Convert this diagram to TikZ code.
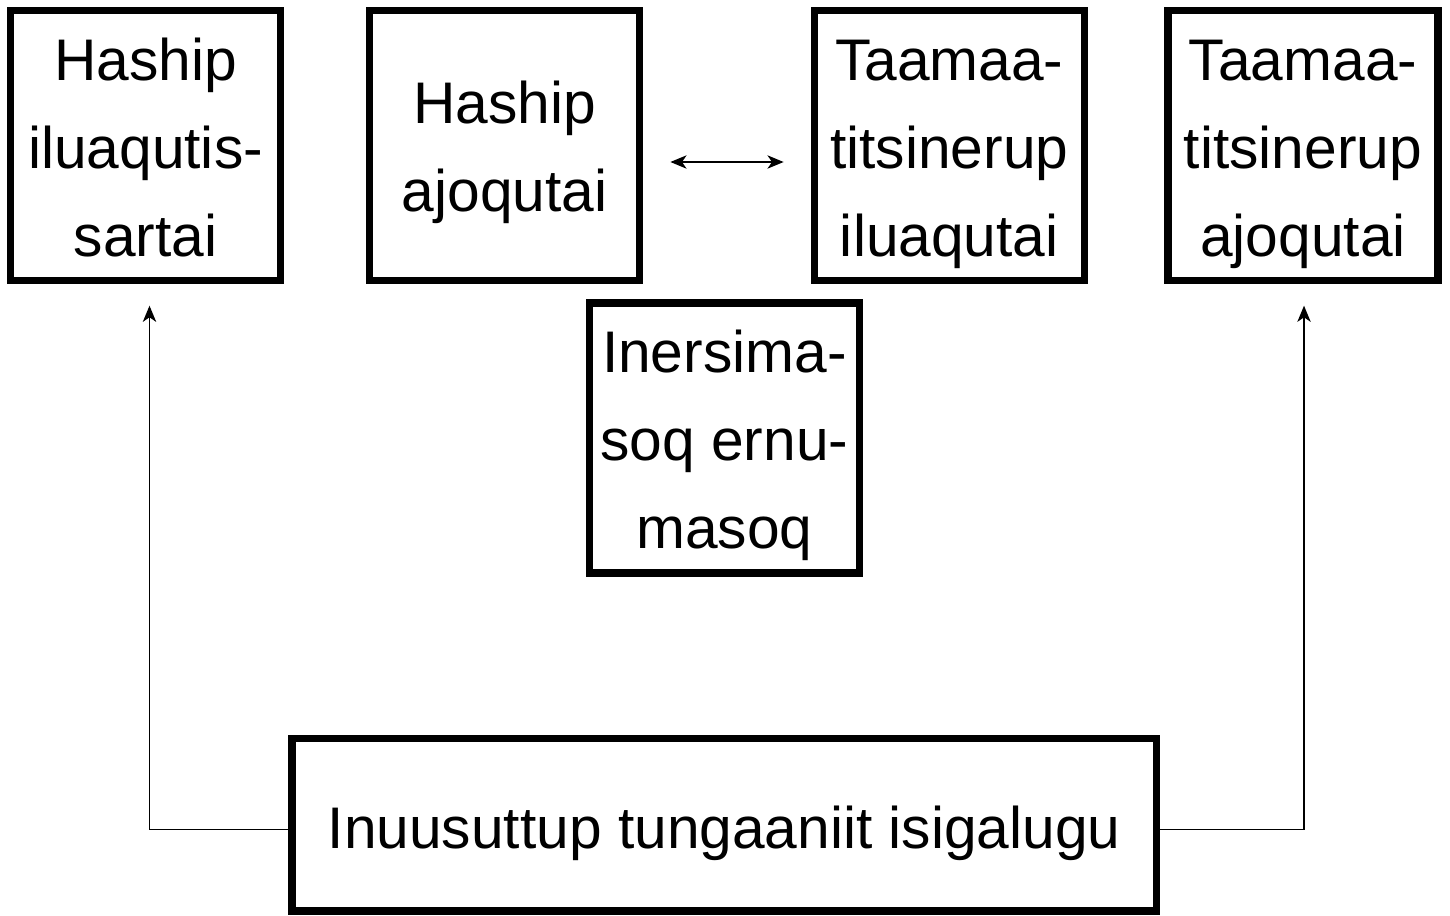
\documentclass[tikz,border=0pt]{standalone}
\usepackage{fontspec}
\setmainfont{Liberation Sans}
\usetikzlibrary{arrows.meta}

\begin{document}
\begin{tikzpicture}[%
  >={Stealth[length=4.6pt, width=3.8pt, inset=1.3pt]},
  block/.style={rectangle, draw, line width=2.1pt, minimum width=2.7cm, minimum height=2.7cm,
    align=center, inner sep=0pt, text depth=0pt, text height=2.21cm,
    font=\fontsize{16.7}{25}\selectfont},
  link/.style={line width=0.4pt, ->},]
  \useasboundingbox (0,0) rectangle (14.5,-9.15);
  {
    \node[block] (hil) at (1.455,-1.455) {Haship\\iluaqutis-\\sartai};
    \node[block, text height=1.31cm] (haj) at (5.047,-1.455) {Haship\\ajoqutai};
    \node[block] (til) at (9.493,-1.455) {Taamaa-\\titsinerup\\iluaqutai};
    \node[block] (taj) at (13.03,-1.455) {Taamaa-\\titsinerup\\ajoqutai};
    \node[block] (iner) at (7.243,-4.38) {Inersima-\\soq ernu-\\masoq};
    \node[block, minimum width=8.645cm, minimum height=1.725cm, text height=0.465cm]
      (inuu) at (7.2425,-8.2475) {Inuusuttup tungaaniit isigalugu};
    \draw[link, <->, shorten <=0.27cm, shorten >=0.27cm]
      ([yshift=-0.165cm]haj.east) -- ([yshift=-0.165cm]til.west);
    \draw[link, shorten >=0.215cm] ([yshift=-0.05cm]inuu.west) -| ([xshift=0.04cm]hil.south);
    \draw[link, shorten >=0.215cm] ([yshift=-0.05cm]inuu.east) -| ([xshift=0.01cm]taj.south);
  }
\end{tikzpicture}
\end{document}
